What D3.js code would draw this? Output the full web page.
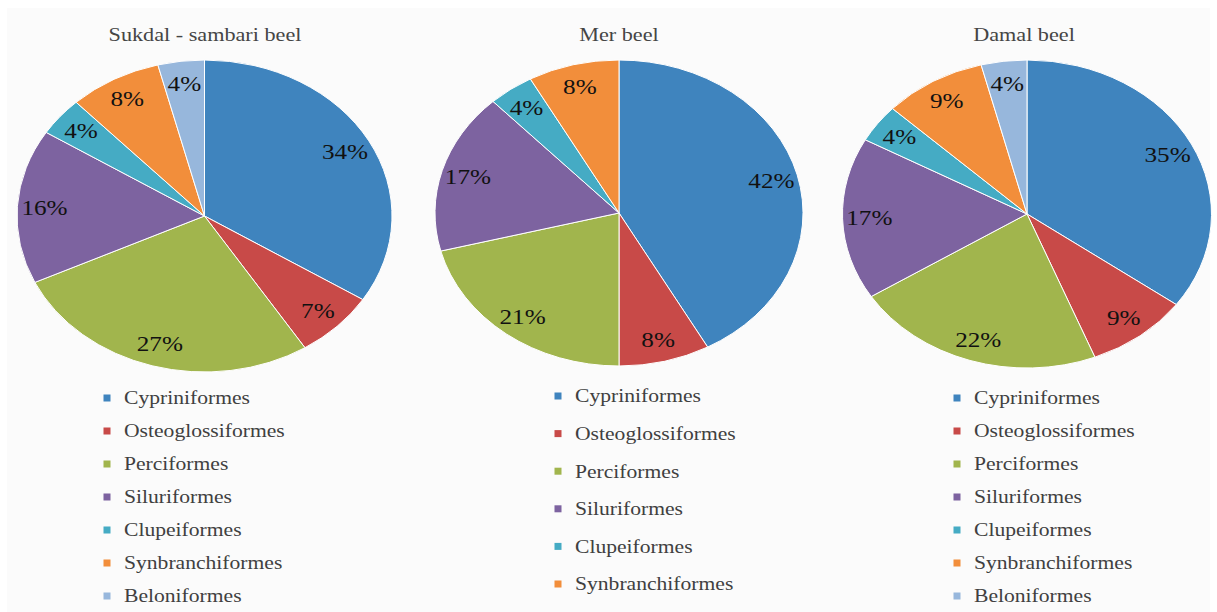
<!DOCTYPE html>
<html>
<head>
<meta charset="utf-8">
<script src="https://cdn.jsdelivr.net/npm/d3@7"></script>
<style>
  html, body { margin: 0; padding: 0; background: #ffffff; }
  svg { display: block; }
  text { font-family: "Liberation Serif", "DejaVu Serif", serif; }
</style>
</head>
<body>
<svg id="chart" width="1217" height="612"></svg>
<script>
// ---- data ----
const categories = ["Cypriniformes", "Osteoglossiformes", "Perciformes", "Siluriformes",
                    "Clupeiformes", "Synbranchiformes", "Beloniformes"];
const siteTitles = ["Sukdal - sambari beel", "Mer beel", "Damal beel"];
const sukdalValues = [34, 7, 27, 16, 4, 8, 4];
const merValues = [42, 8, 21, 17, 4, 8];
const damalValues = [35, 9, 22, 17, 4, 9, 4];
const colors = ["#3f84be", "#c84a48", "#a1b54d", "#7d63a0", "#45abc4", "#f28e3b", "#97b7dc"];

// ---- layout ----
const svg = d3.select("#chart");
svg.append("rect").attr("x", 7).attr("y", 8).attr("width", 1203).attr("height", 604).attr("fill", "#fbfbfb");

const SX = 1.2; // horizontal stretch of the original image
const pies = [
  { values: sukdalValues, cx: 204.5, cy: 216, rx: 187.5, ry: 156, tx: 205,
    legX: 107, legY0: 398, legDy: 33 },
  { values: merValues, cx: 619, cy: 213, rx: 184, ry: 153, tx: 619,
    legX: 558, legY0: 396, legDy: 37.6 },
  { values: damalValues, cx: 1027, cy: 214, rx: 184.5, ry: 154, tx: 1024,
    legX: 957, legY0: 398, legDy: 33 }
];

const color = d3.scaleOrdinal().domain(categories).range(colors);
const pieGen = d3.pie().sort(null).value(d => d.value);
const R = 100;
const arc = d3.arc().innerRadius(0).outerRadius(R);

pies.forEach((p, i) => {
  const data = p.values.map((v, j) => ({ cat: categories[j], value: v }));
  const arcs = pieGen(data);

  // title
  svg.append("text")
    .attr("transform", `translate(${p.tx},41) scale(${SX},1)`)
    .attr("text-anchor", "middle")
    .attr("font-size", 18.5)
    .attr("fill", "#454545")
    .text(siteTitles[i]);

  const g = svg.append("g")
    .attr("transform", `translate(${p.cx},${p.cy}) scale(${p.rx / R},${p.ry / R})`);
  g.selectAll("path").data(arcs).enter().append("path")
    .attr("d", arc)
    .attr("fill", d => color(d.data.cat))
    .attr("stroke", "#ffffff")
    .attr("stroke-width", 1)
    .attr("vector-effect", "non-scaling-stroke");

  // labels
  const k = 0.855;
  arcs.forEach(d => {
    const a = (d.startAngle + d.endAngle) / 2;
    const x = p.cx + Math.sin(a) * p.rx * k;
    const y = p.cy - Math.cos(a) * p.ry * k;
    svg.append("text")
      .attr("transform", `translate(${x},${y}) scale(${SX},1)`)
      .attr("text-anchor", "middle")
      .attr("dy", "0.35em")
      .attr("font-size", 21)
      .attr("fill", "#111111")
      .text(d.data.value + "%");
  });

  // legend
  const leg = svg.append("g");
  data.forEach((d, j) => {
    const y = p.legY0 + j * p.legDy;
    leg.append("rect")
      .attr("x", p.legX - 3.5).attr("y", y - 3.5)
      .attr("width", 7).attr("height", 7)
      .attr("fill", color(d.cat));
    leg.append("text")
      .attr("transform", `translate(${p.legX + 17},${y}) scale(${SX},1)`)
      .attr("dy", "0.35em")
      .attr("font-size", 18)
      .attr("fill", "#404040")
      .text(d.cat);
  });
});
</script>
</body>
</html>
